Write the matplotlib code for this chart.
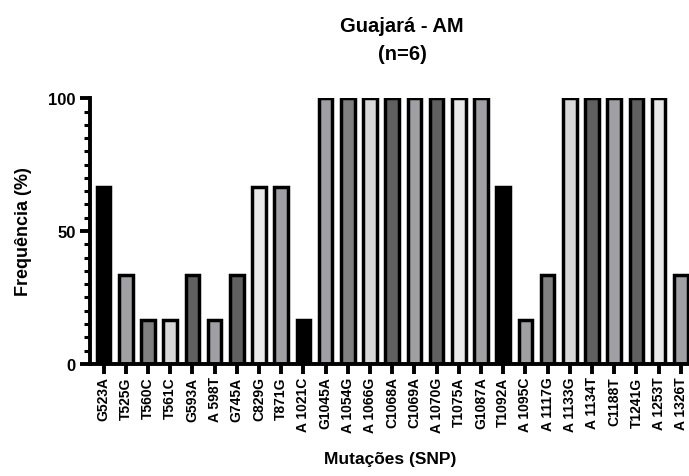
import matplotlib
matplotlib.use('Agg')
import matplotlib.pyplot as plt
from matplotlib.ticker import MultipleLocator

plt.rcParams['font.family'] = ['Liberation Sans', 'DejaVu Sans']
plt.rcParams['font.weight'] = 'bold'

snps = ['G523A', 'T525G', 'T560C', 'T561C', 'G593A', 'A 598T', 'G745A', 'C829G',
        'T871G', 'A 1021C', 'G1045A', 'A 1054G', 'A 1066G', 'C1068A', 'C1069A',
        'A 1070G', 'T1075A', 'G1087A', 'T1092A', 'A 1095C', 'A 1117G', 'A 1133G',
        'A 1134T', 'C1188T', 'T1241G', 'A 1253T', 'A 1326T']
freq = [66.67, 33.33, 16.67, 16.67, 33.33, 16.67, 33.33, 66.67, 66.67, 16.67,
        100, 100, 100, 100, 100, 100, 100, 100, 66.67, 16.67, 33.33, 100,
        100, 100, 100, 100, 33.33]
# prism-like grey cycle
greys = ['#000000', '#a0a0a4', '#808080', '#d8d8d8', '#606060',
         '#a0a0a4', '#606060', '#e8e8e8', '#a0a0a4']
colors = [greys[i % len(greys)] for i in range(len(snps))]

fig = plt.figure(figsize=(6.89, 4.77), dpi=100)
ax = fig.add_axes([0.131, 0.235, 0.87, 0.557])

x = range(len(snps))
ax.bar(x, freq, width=0.62, color=colors, edgecolor='black', linewidth=2.5)

ax.set_xlim(-0.6, 26.4)
ax.set_ylim(0, 100)
ax.set_xticks(list(x))
ax.set_xticklabels(snps, rotation=90, fontsize=10, fontweight='bold')
ax.set_yticks([0, 50, 100])
ax.set_yticklabels(['0', '50', '100'], fontsize=12, fontweight='bold')
ax.yaxis.set_minor_locator(MultipleLocator(5))

for s in ['top', 'right']:
    ax.spines[s].set_visible(False)
for s in ['left', 'bottom']:
    ax.spines[s].set_linewidth(2.8)
ax.tick_params(axis='both', which='major', width=2.8, length=7)
ax.tick_params(axis='y', which='minor', width=2.2, length=4)
ax.tick_params(axis='x', pad=2)

ax.set_ylabel('Frequência (%)', fontsize=13, fontweight='bold', labelpad=12)
ax.set_xlabel('Mutações (SNP)', fontsize=12.5, fontweight='bold', labelpad=14)
ax.set_title('Guajará - AM\n(n=6)', fontsize=14.5, fontweight='bold', pad=28,
             linespacing=1.6, x=0.52)

fig.savefig('out.png', dpi=100)
